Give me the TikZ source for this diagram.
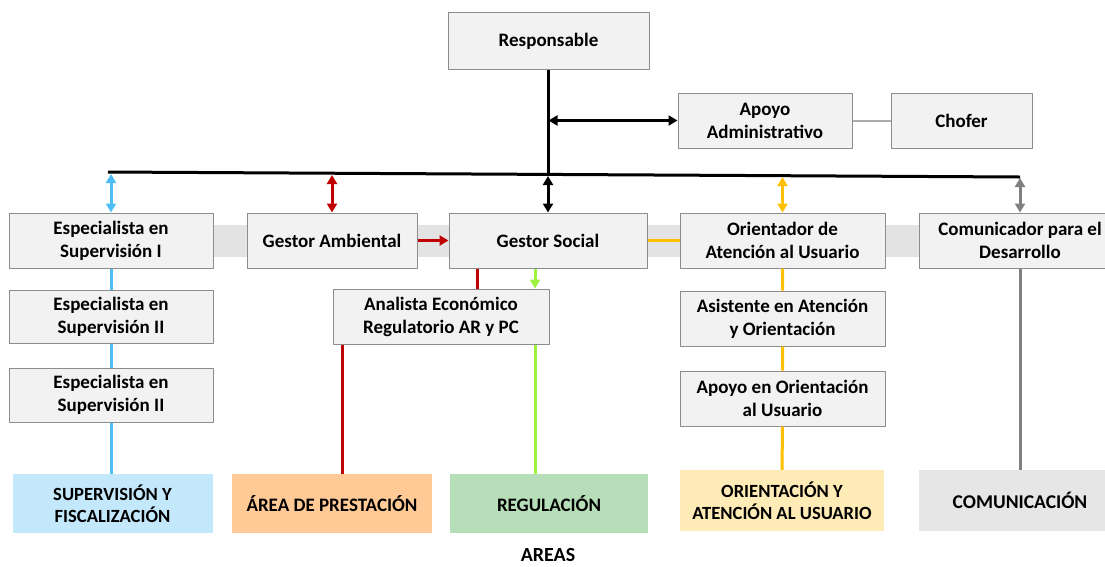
\documentclass[tikz,border=0pt]{standalone}
\usepackage{fontspec}
\setmainfont{Carlito}
\usetikzlibrary{arrows.meta}
\definecolor{azul}{HTML}{4DBEF7}
\definecolor{rojo}{HTML}{C00000}
\definecolor{verde}{HTML}{9CF23C}
\definecolor{naranja}{HTML}{FFC000}
\definecolor{gris}{HTML}{808080}
\definecolor{cajafondo}{HTML}{F2F2F2}
\definecolor{cajaborde}{HTML}{8C8C8C}
\definecolor{franja}{HTML}{E3E3E3}
\tikzset{
  cargo/.style={draw=cajaborde, fill=cajafondo, line width=1pt, align=center,
    font=\bfseries\fontsize{19}{23}\selectfont, inner sep=2pt, minimum height=55pt},
  area/.style={align=center, font=\bfseries\fontsize{18.6}{22}\selectfont, inner sep=2pt,
    minimum height=59pt},
  linea/.style={line width=3pt}
}
\begin{document}
\begin{tikzpicture}[x=1pt, y=-1pt, >={Triangle[length=9pt,width=10pt]}, line join=round]
	\useasboundingbox (0,0) rectangle (1105,566);
	\fill[franja] (213,225) rectangle (919,257);
	% cargos
	\node[cargo, minimum width=201pt, minimum height=57pt] (resp) at (548.5,41) {Responsable};
	\node[cargo, minimum width=174pt] (apoyo) at (765,120.5) {Apoyo\\Administrativo};
	\node[cargo, minimum width=141pt] (chofer) at (961.5,120.5) {Chofer};
	\node[cargo, minimum width=204pt] (esp1) at (111,240.5) {Especialista en\\Supervisión I};
	\node[cargo, minimum width=170pt] (gamb) at (332,240.5) {Gestor Ambiental};
	\node[cargo, minimum width=198pt] (gsoc) at (548,240.5) {Gestor Social};
	\node[cargo, minimum width=205pt] (orient) at (782.5,240.5) {Orientador de\\Atención al Usuario};
	\node[cargo, minimum width=202pt] (comun) at (1020,240.5) {Comunicador para el\\Desarrollo};
	\node[cargo, minimum width=204pt, minimum height=53pt] (esp2) at (111,316.5) {Especialista en\\Supervisión II};
	\node[cargo, minimum width=204pt, minimum height=54pt] (esp3) at (111,395) {Especialista en\\Supervisión II};
	\node[cargo, minimum width=216pt] (analista) at (441,316.5) {Analista Económico\\Regulatorio AR y PC};
	\node[cargo, minimum width=205pt] (asist) at (782.5,318.5) {Asistente en Atención\\y Orientación};
	\node[cargo, minimum width=205pt] (apoyoor) at (782.5,398.5) {Apoyo en Orientación\\al Usuario};
	% areas
	\node[area, fill={rgb,255:red,195;green,231;blue,251}, minimum width=200pt] (supv) at (112.5,503.5) {SUPERVISIÓN Y\\FISCALIZACIÓN};
	\node[area, fill={rgb,255:red,255;green,202;blue,150}, minimum width=200pt, font=\bfseries\fontsize{19}{22}\selectfont] (prest) at (332,503.5) {ÁREA DE PRESTACIÓN};
	\node[area, fill={rgb,255:red,182;green,222;blue,184}, minimum width=198pt, font=\bfseries\fontsize{19}{22}\selectfont] (regul) at (549,503.5) {REGULACIÓN};
	\node[area, fill={rgb,255:red,255;green,235;blue,181}, minimum width=204pt, minimum height=61pt] (orarea) at (782,500.5) {ORIENTACIÓN Y\\ATENCIÓN AL USUARIO};
	\node[area, fill={rgb,255:red,230;green,230;blue,230}, minimum width=202pt, minimum height=61pt, font=\bfseries\fontsize{19.5}{22}\selectfont] (comarea) at (1020,500.5) {COMUNICACIÓN};
	\node[area, minimum height=0pt, inner sep=0pt, font=\bfseries\fontsize{20}{22}\selectfont] (areas) at (548,555) {AREAS};
	% linea principal
	\coordinate (izq) at (108,172);
	\coordinate (der) at (1020,177);
	\draw[linea] (izq) -- (der);
	\draw[linea] (resp.south) -- (resp.south |- 0,175);
	\draw[linea, <->] (resp.south |- apoyo.west) -- (apoyo.west);
	\draw[line width=2pt, gris!65] (apoyo.east) -- (chofer.west);
	\foreach \n/\c/\y in {esp1/azul/174, gamb/rojo/175, gsoc/black/176, orient/naranja/177, comun/gris/178}
		\draw[linea, <->, \c] (\n.north |- 0,\y) -- (\n.north);
	% conexiones
	\draw[linea, ->, rojo] (gamb.east) -- (gsoc.west);
	\draw[linea, naranja] (gsoc.east) -- (orient.west);
	\draw[linea, azul] (esp1.south) -- (esp2.north) (esp2.south) -- (esp3.north) (esp3.south) -- (esp3.south |- supv.north);
	\draw[linea, rojo] ([xshift=-71pt]gsoc.south) -- ([xshift=-71pt]gsoc.south |- analista.north);
	\draw[linea, rojo] ([xshift=-99pt]analista.south) -- ([xshift=-99pt]analista.south |- prest.north);
	\draw[linea, ->, verde] ([xshift=-13pt]gsoc.south) -- ([xshift=-13pt]gsoc.south |- analista.north);
	\draw[linea, verde] ([xshift=94pt]analista.south) -- ([xshift=94pt]analista.south |- regul.north);
	\draw[linea, naranja] (orient.south) -- (asist.north) (asist.south) -- (apoyoor.north) (apoyoor.south) -- (orarea.north);
	\draw[linea, gris] (comun.south) -- (comarea.north);
\end{tikzpicture}
\end{document}
